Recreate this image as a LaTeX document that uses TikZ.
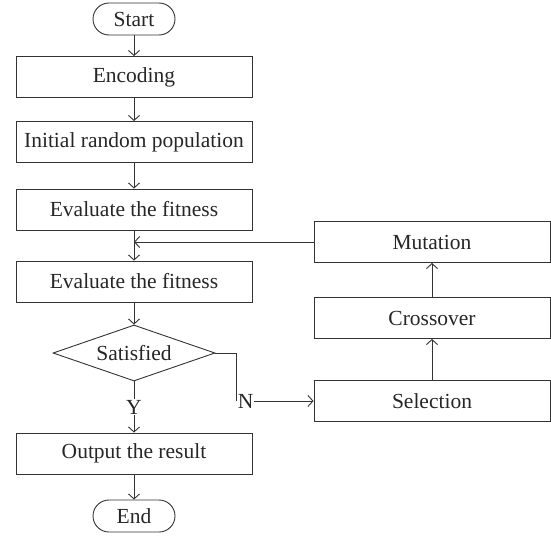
\documentclass[tikz,border=0pt]{standalone}
\usepackage{fontspec}
\setmainfont{Liberation Serif}
\usetikzlibrary{arrows.meta,shapes.geometric}
\begin{document}
\begin{tikzpicture}[x=1pt,y=-1pt,line width=0.9pt,
  every node/.style={text=black!85, font=\fontsize{21.5}{25}\selectfont},
  box/.style={draw=black!80, minimum width=236pt, minimum height=41pt, inner sep=0pt},
  term/.style={draw=black!80, rounded corners=16pt, minimum width=82pt, minimum height=32pt, inner sep=0pt},
  dec/.style={draw=black!80, diamond, aspect=2.9, minimum width=162pt, minimum height=56pt, inner sep=0pt},
  lbl/.style={fill=white, inner sep=0.5pt},
  arr/.style={draw=black!80, -{Straight Barb[length=5pt,width=11pt]}}]
\useasboundingbox (0,0) rectangle (551,535);
\node[term] (start) at (134,19) {Start};
\node[box] (enc) at (134,77) {Encoding};
\node[box] (init) at (134,142) {Initial random population};
\node[box] (ev1) at (134,209.5) {Evaluate the fitness};
\node[box] (ev2) at (134,281.5) {Evaluate the fitness};
\node[dec] (sat) at (134,353) {Satisfied};
\node[box] (out) at (134,453.5) {Output the result};
\node[term] (end) at (134,516) {End};
\node[box] (mut) at (432,242) {Mutation};
\node[box] (cro) at (432,318) {Crossover};
\node[box] (sel) at (432,401) {Selection};
\coordinate (merge) at (134,242);
\coordinate (nb) at (236,401);
\node[lbl, anchor=west] (nlab) at (237,401) {N};
\draw[arr] (start) -- (enc);
\draw[arr] (enc) -- (init);
\draw[arr] (init) -- (ev1);
\draw[arr] (ev1) -- (ev2);
\draw[arr] (mut) -- (merge);
\draw[arr] (ev2) -- (sat);
\draw[arr] (sat) -- node[lbl] {Y} (out);
\draw[arr] (out) -- (end);
\draw[draw=black!80] (sat.east) -| (nb);
\draw[arr] (nlab.east) -- (sel.west);
\draw[arr] (sel) -- (cro);
\draw[arr] (cro) -- (mut);
\end{tikzpicture}
\end{document}
